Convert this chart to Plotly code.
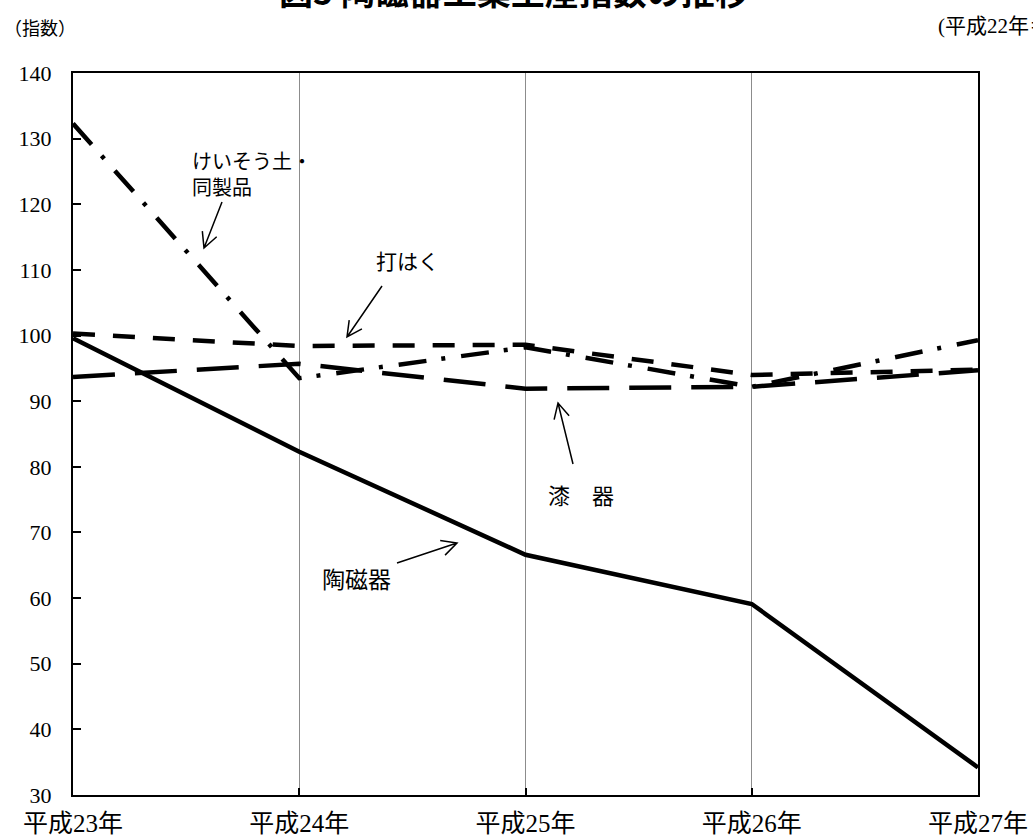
import math
import plotly.graph_objects as go

# ---- data ----
years = [23, 24, 25, 26, 27]
year_labels = ["平成23年", "平成24年", "平成25年", "平成26年", "平成27年"]
toujiki = [99.6, 82.3, 66.6, 59.1, 34.2]      # 陶磁器 (solid)
dahaku = [100.3, 98.4, 98.6, 94.0, 94.8]      # 打はく (short dash)
shikki = [93.7, 95.7, 91.9, 92.2, 94.7]       # 漆器 (long dash)
keisoudo = [132.3, 93.5, 98.2, 92.2, 99.3]    # けいそう土・同製品 (dash-dot)
y_range = [30, 140]

W, H = 1033, 838
L, R, T, B = 73, 978, 73, 795


def px(xp):
    return (xp - L) / (R - L)


def py(yp):
    return (B - yp) / (B - T)


fig = go.Figure()
fig.add_trace(go.Scatter(x=years, y=keisoudo, mode="lines",
                         line=dict(color="black", width=4.5, dash="28px,15px,4px,16px")))
fig.add_trace(go.Scatter(x=years, y=dahaku, mode="lines",
                         line=dict(color="black", width=4.5, dash="22px,18px")))
fig.add_trace(go.Scatter(x=years, y=shikki, mode="lines",
                         line=dict(color="black", width=4.5, dash="42px,20px")))
fig.add_trace(go.Scatter(x=years, y=toujiki, mode="lines",
                         line=dict(color="black", width=4.5)))

jp = "Noto Sans CJK JP"
serif = "Liberation Serif, Noto Sans CJK JP"

annotations = [
    dict(text="<b>図5 陶磁器工業生産指数の推移</b>", x=px(514), y=py(-9),
         font=dict(family=jp, size=34, color="black")),
    dict(text="（指数）", x=px(2), y=py(27), xanchor="left",
         font=dict(family=jp, size=18, color="black")),
    dict(text="(平成22年＝100)", x=px(936), y=py(26), xanchor="left",
         font=dict(family=serif, size=21, color="black")),
    dict(text="けいそう土・<br>同製品", x=px(190), y=py(173), xanchor="left", align="left",
         font=dict(family=jp, size=20, color="black")),
    dict(text="打はく", x=px(407), y=py(260),
         font=dict(family=jp, size=21, color="black")),
    dict(text="漆　器", x=px(581), y=py(494),
         font=dict(family=jp, size=22, color="black")),
    dict(text="陶磁器", x=px(356), y=py(578),
         font=dict(family=jp, size=23, color="black")),
]
for a in annotations:
    a.update(xref="paper", yref="paper", showarrow=False)
    a.setdefault("xanchor", "center")
    a.setdefault("yanchor", "middle")


def arrow_path(tail, tip, head=17, ang=27):
    dx, dy = tip[0] - tail[0], tip[1] - tail[1]
    ln = math.hypot(dx, dy)
    bx, by = -dx / ln, -dy / ln
    pts = []
    for s in (1, -1):
        a = math.radians(s * ang)
        rx = bx * math.cos(a) - by * math.sin(a)
        ry = bx * math.sin(a) + by * math.cos(a)
        pts.append((tip[0] + head * rx, tip[1] + head * ry))
    f = lambda p: f"{px(p[0]):.5f},{py(p[1]):.5f}"
    return (f"M{f(tail)} L{f(tip)} M{f(pts[0])} L{f(tip)} L{f(pts[1])}")


arrows = [((222, 202), (204, 248)),
          ((382, 286), (347, 337)),
          ((573, 464), (558, 403)),
          ((397, 563), (457, 543))]
shapes = [dict(type="path", xref="paper", yref="paper", path=arrow_path(t, h),
               line=dict(color="black", width=1.5)) for t, h in arrows]

fig.update_layout(
    width=W, height=H,
    margin=dict(l=L, r=W - R, t=T, b=H - B, pad=0, autoexpand=False),
    paper_bgcolor="white", plot_bgcolor="white",
    showlegend=False,
    annotations=annotations,
    shapes=shapes,
    xaxis=dict(range=[years[0], years[-1]], tickvals=years, ticktext=year_labels,
               automargin=False,
               showgrid=True, gridcolor="#8c8c8c", gridwidth=1, zeroline=False,
               showline=True, linecolor="black", linewidth=2, mirror=True,
               ticks="inside", ticklen=7, tickwidth=1.5, tickcolor="black",
               ticklabelstandoff=5,
               tickfont=dict(family=serif, size=25, color="black")),
    yaxis=dict(range=y_range, tick0=30, dtick=10, showgrid=False, zeroline=False,
               automargin=False,
               showline=True, linecolor="black", linewidth=2, mirror=True,
               ticks="inside", ticklen=8, tickwidth=1.5, tickcolor="black",
               ticklabelstandoff=15,
               tickfont=dict(family=serif, size=22, color="black")),
)

fig.write_html("out.html",
               config={"displayModeBar": False},
               post_script="document.body.style.margin='0px';"
                           "document.body.style.overflow='hidden';")
